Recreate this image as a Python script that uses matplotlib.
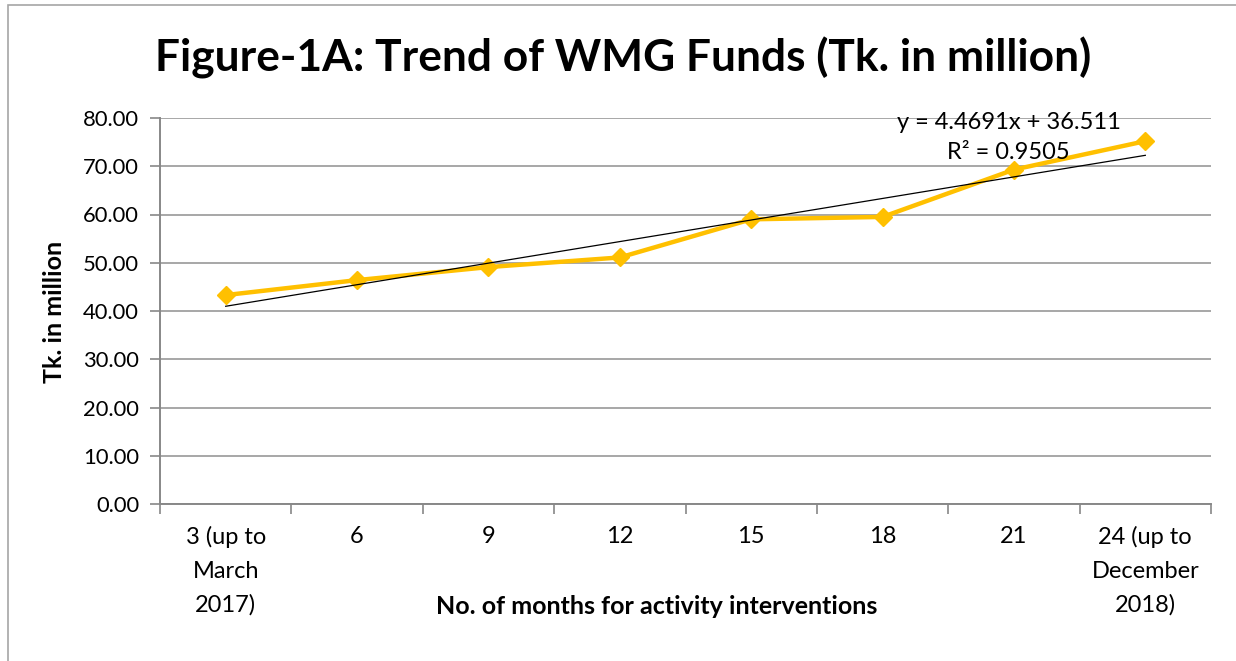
import matplotlib
matplotlib.use("Agg")
import matplotlib.pyplot as plt
from matplotlib.patches import Rectangle
import numpy as np

plt.rcParams['font.family'] = ['Lato', 'DejaVu Sans']

categories = ["3 (up to\nMarch\n2017)", "6", "9", "12", "15", "18", "21", "24 (up to\nDecember\n2018)"]
funds = [43.3, 46.4, 49.1, 51.1, 59.0, 59.5, 69.3, 75.2]
trend_slope = 4.4691
trend_intercept = 36.511
r_squared = 0.9505
yticks = [0, 10, 20, 30, 40, 50, 60, 70, 80]

W, H = 1236, 661
fig = plt.figure(figsize=(W / 100, H / 100), dpi=100)
fig.patch.set_facecolor("white")

# outer frame
fig.patches.append(Rectangle((8 / W, -0.05), 1.2, 1 - 5 / H + 0.05, transform=fig.transFigure,
                             fill=False, edgecolor="#a6a6a6", linewidth=1.2))

ax = fig.add_axes([160 / W, 1 - 504 / H, 1051 / W, 386 / H])
x = np.arange(1, len(funds) + 1)

ax.set_xlim(0.5, len(funds) + 0.5)
ax.set_ylim(0, 80)
ax.set_yticks(yticks)
ax.set_yticklabels([f"{v:.2f}" for v in yticks])
ax.yaxis.grid(True, color="#a0a0a0", linewidth=1.3)
ax.set_axisbelow(True)

# x ticks at category boundaries, labels at centres
ax.set_xticks(np.arange(0.5, len(funds) + 1, 1.0))
ax.set_xticklabels([])
ax.set_xticks(x, minor=True)
ax.set_xticklabels(categories, minor=True, fontsize=17, linespacing=1.72)
ax.tick_params(axis="x", which="major", length=7, color="#888888", width=1.2, direction="out")
ax.tick_params(axis="x", which="minor", length=0, pad=16)
ax.tick_params(axis="y", length=7, color="#888888", width=1.2, direction="out", labelsize=15.8, pad=8)

for s in ["top", "right"]:
    ax.spines[s].set_visible(False)
for s in ["left", "bottom"]:
    ax.spines[s].set_color("#888888")
    ax.spines[s].set_linewidth(1.4)

ax.plot(x, funds, color="#FFC000", linewidth=3.2, marker="D", markersize=9, zorder=3)
trend = trend_slope * x + trend_intercept
ax.plot(x[[0, -1]], trend[[0, -1]], color="black", linewidth=0.9, zorder=4)

ax.text(6.96, 79.0, f"y = {trend_slope}x + {trend_intercept}", ha="center", va="center", fontsize=17)
ax.text(6.96, 72.8, f"R² = {r_squared}", ha="center", va="center", fontsize=17)

fig.text(623 / W, 1 - 58 / H, "Figure-1A: Trend of WMG Funds (Tk. in million)", ha="center", va="center",
         fontsize=31.9, fontweight="bold")
fig.text(55 / W, 1 - 312 / H, "Tk. in million", rotation=90, ha="center", va="center",
         fontsize=18, fontweight="bold")
fig.text(657 / W, 1 - 606 / H, "No. of months for activity interventions", ha="center", va="center",
         fontsize=18, fontweight="bold")

fig.savefig("out.png", dpi=100)
